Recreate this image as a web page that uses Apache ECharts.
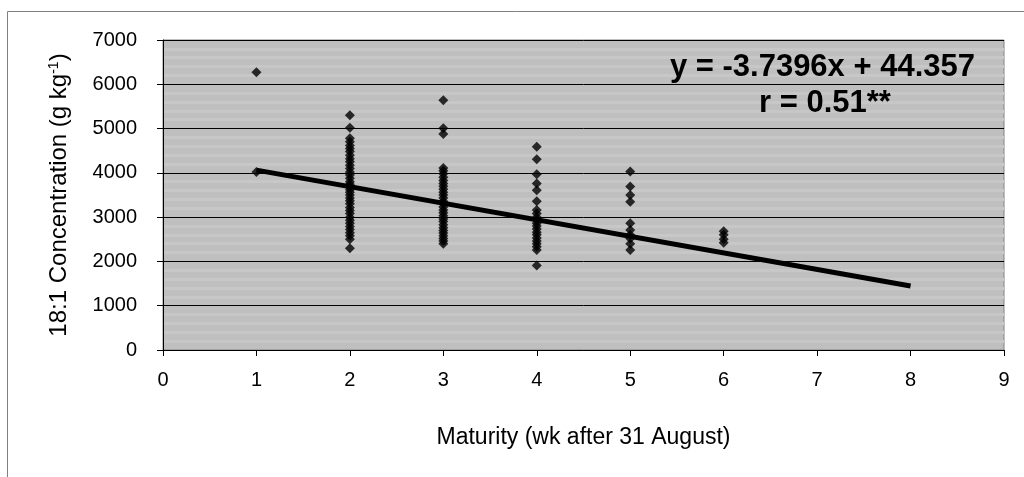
<!DOCTYPE html>
<html>
<head>
<meta charset="utf-8">
<script src="https://cdn.jsdelivr.net/npm/echarts@6/dist/echarts.min.js"></script>
<style>
  html, body { margin: 0; padding: 0; background: #fff; }
  #chart { width: 1024px; height: 477px; }
</style>
</head>
<body>
<div id="chart"></div>
<script>
// 18:1 concentration by maturity week
const wk1 = [6270, 4020]
const wk2 = [5300, 5020, 4780, 4700, 4620, 4550, 4480, 4400, 4320, 4250, 4170, 4100, 4020, 3950, 3880, 3800,
  3740, 3680, 3620, 3560, 3500, 3430, 3370, 3300, 3220, 3150, 3080, 3000, 2930, 2860, 2790, 2720, 2650, 2580, 2500, 2300]
const wk3 = [5640, 5010, 4880, 4110, 4050, 3980, 3900, 3830, 3760, 3700, 3630, 3560, 3500, 3430, 3360, 3300,
  3230, 3160, 3100, 3030, 2960, 2900, 2830, 2760, 2700, 2640, 2580, 2520, 2460, 2400]
const wk4 = [4590, 4310, 3970, 3760, 3610, 3360, 3160, 3080, 3000, 2930, 2860, 2800, 2730, 2660, 2600, 2530,
  2460, 2400, 2330, 2260, 1910]
const wk5 = [4030, 3690, 3500, 3350, 2860, 2710, 2600, 2520, 2400, 2260]
const wk6 = [2680, 2600, 2500, 2420]
const weeks = [1, 2, 3, 4, 5, 6]
// regression line ends (x = 1 and x = 8)
const trendX = [1, 8]
const trendY = [4062, 1444]

const font = "'Liberation Sans', Arial, sans-serif"
const points = []
;[wk1, wk2, wk3, wk4, wk5, wk6].forEach((vals, i) => {
  vals.forEach(v => points.push([weeks[i], v]))
})

const chart = echarts.init(document.getElementById('chart'))
chart.setOption({
  animation: false,
  grid: {
    left: 163, right: 20, top: 40, bottom: 127,
    show: true,
    backgroundColor: '#bfbfbf',
    borderColor: '#808080',
    borderWidth: 1
  },
  graphic: [
    {
      type: 'rect', z: -10, silent: true,
      shape: { x: 7.5, y: 11.5, width: 1100, height: 600 },
      style: { fill: null, stroke: '#808080', lineWidth: 1 }
    },
    {
      type: 'text', z: 100,
      style: { text: 'y = -3.7396x + 44.357', x: 975, y: 67, align: 'right', verticalAlign: 'middle',
        font: 'bold 31px ' + font, fill: '#000' }
    },
    {
      type: 'text', z: 100,
      style: { text: 'r = 0.51**', x: 825, y: 103, align: 'center', verticalAlign: 'middle',
        font: 'bold 31px ' + font, fill: '#000' }
    }
  ],
  xAxis: {
    type: 'value',
    min: 0, max: 9, interval: 1,
    name: 'Maturity (wk after 31 August)',
    nameLocation: 'middle',
    nameGap: 76,
    nameTextStyle: { fontFamily: font, fontSize: 23, color: '#000' },
    axisLine: { onZero: false, lineStyle: { color: '#000', width: 1 } },
    axisTick: { length: 6, lineStyle: { color: '#000' } },
    axisLabel: { margin: 20, fontFamily: font, fontSize: 20, color: '#000' },
    splitLine: { show: false }
  },
  yAxis: {
    type: 'value',
    min: 0, max: 7000, interval: 1000,
    name: '18:1 Concentration (g kg{sup|-1})',
    nameLocation: 'middle',
    nameGap: 92,
    nameTextStyle: {
      fontFamily: font, fontSize: 24, color: '#000',
      rich: { sup: { fontFamily: font, fontSize: 14, color: '#000', padding: [0, 0, 10, 0] } }
    },
    axisLine: { show: true, onZero: false, lineStyle: { color: '#000', width: 1 } },
    axisTick: { show: true, length: 6, lineStyle: { color: '#000' } },
    axisLabel: { margin: 26, fontFamily: font, fontSize: 20, color: '#000', formatter: v => String(v) },
    splitLine: { lineStyle: { color: '#000', width: 1 } },
    minorTick: { show: false, splitNumber: 5 },
    minorSplitLine: { show: true, lineStyle: { color: '#c7c7c7', width: 3 } }
  },
  series: [
    {
      type: 'scatter',
      symbol: 'diamond',
      symbolSize: 10,
      itemStyle: { color: '#000' },
      data: points,
      z: 3
    },
    {
      type: 'line',
      symbol: 'none',
      lineStyle: { color: '#000', width: 5 },
      data: trendX.map((x, i) => [x, trendY[i]]),
      z: 4
    }
  ]
})
</script>
</body>
</html>
